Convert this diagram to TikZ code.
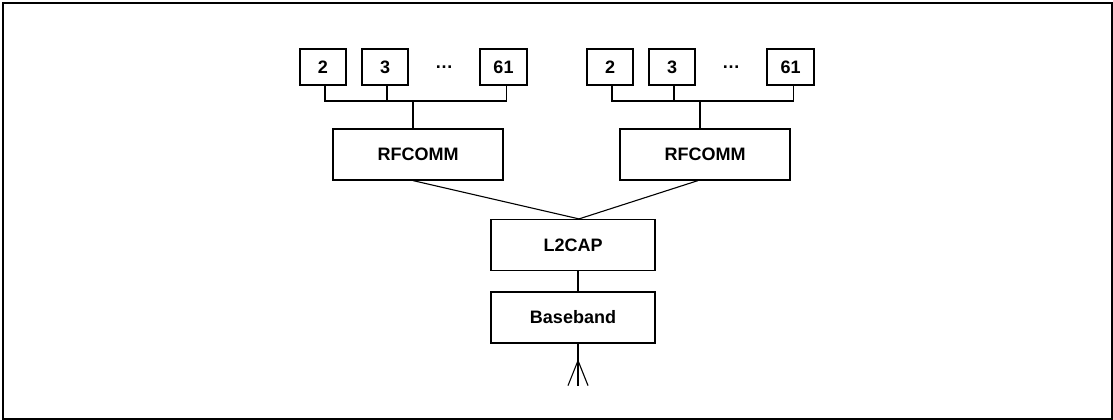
\documentclass[tikz,border=0pt]{standalone}
\usepackage{fontspec}
\setmainfont{Liberation Sans}
\usetikzlibrary{positioning}

\begin{document}
\begin{tikzpicture}[x=1pt,y=-1pt,
  box/.style={draw,line width=1.2pt,inner sep=0pt,font=\fontsize{18}{21}\selectfont\bfseries},
  port/.style={box,minimum width=46pt,minimum height=36pt},
  layer/.style={box,minimum height=51pt},
  wire/.style={line width=1.1pt}]
\useasboundingbox (0,0) rectangle (1113,420);
\draw[line width=2pt] (2.5,3) rectangle (1112,419);
% two RFCOMM stacks with their channels
\foreach \g/\dx in {l/0,r/287}{
  \node[port] (\g2) at (323+\dx,67) {2};
  \node[port] (\g3) at (385+\dx,67) {3};
  \node[font=\fontsize{18}{21}\selectfont\bfseries] (\g d) at (444+\dx,67) {…};
  \node[port,minimum width=47pt] (\g61) at (503.5+\dx,67) {61};
  \node[layer,minimum width=170pt] (\g rf) at (418+\dx,154.5) {RFCOMM};
  \coordinate (\g bus) at (413+\dx,101);
  \draw[wire] ([xshift=2pt]\g2.south) |- (\g bus) -| ([xshift=3pt]\g61.south);
  \draw[wire] ([xshift=2pt]\g3.south) -- ([xshift=2pt]\g3.south |- \g bus);
  \draw[wire] (\g bus) -- (\g bus |- \g rf.north);
}
\node[layer,minimum width=164pt] (l2cap) at (573,245) {L2CAP};
\node[layer,minimum width=164pt] (base) at (573,317.5) {Baseband};
\coordinate (apex) at ([xshift=6pt]l2cap.north);
\draw[wire] ([xshift=-5pt]lrf.south) -- (apex) -- ([xshift=-7pt]rrf.south);
\draw[wire] ([xshift=5pt]l2cap.south) -- ([xshift=5pt]base.north);
% antenna
\coordinate (mast) at ([xshift=5pt,yshift=-17pt]base.south);
\draw[wire] ([xshift=5pt]base.south) -- ++(0,42);
\draw[wire] ([xshift=-10pt,yshift=-25pt]mast) -- (mast) -- ([xshift=10pt,yshift=-25pt]mast);
\end{tikzpicture}
\end{document}
